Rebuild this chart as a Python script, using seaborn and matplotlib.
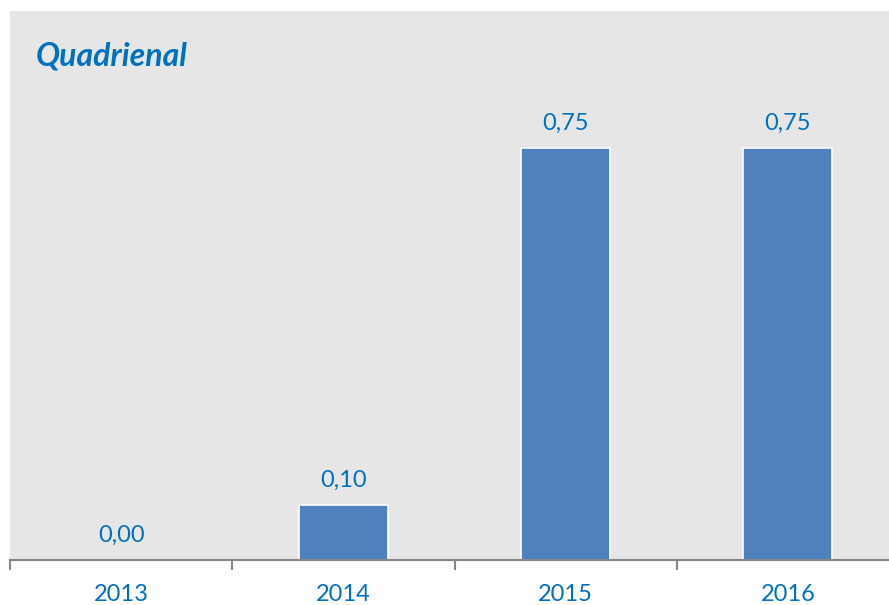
import matplotlib
matplotlib.use("Agg")
import matplotlib.pyplot as plt
import seaborn as sns
from matplotlib.ticker import FixedLocator

# Data
years = ["2013", "2014", "2015", "2016"]
values = [0.00, 0.10, 0.75, 0.75]
value_labels = ["0,00", "0,10", "0,75", "0,75"]
title = "Quadrienal"

bar_color = "#4F81BD"
text_color = "#0070C0"
panel_color = "#E6E6E6"
axis_color = "#878787"

sns.set_theme(style="white")
plt.rcParams["font.family"] = ["Lato", "DejaVu Sans"]

fig = plt.figure(figsize=(8.89, 6.05), dpi=100)
W, H = 889, 605
ax = fig.add_axes([10 / W, 45 / H, 889 / W, 549 / H])
ax.set_facecolor(panel_color)

sns.barplot(x=years, y=values, color=bar_color, width=0.4, saturation=1,
            edgecolor="white", linewidth=1.2, ax=ax)

ax.set_xlim(-0.5, 3.5)
ax.set_ylim(0, 1.0)
ax.set_yticks([])
ax.set_xlabel("")
ax.set_ylabel("")

for side in ("top", "left", "right"):
    ax.spines[side].set_visible(False)
ax.spines["bottom"].set_color(axis_color)
ax.spines["bottom"].set_linewidth(1.5)

# Category labels centred, tick marks on category boundaries
ax.tick_params(axis="x", which="major", bottom=False, length=0, pad=17,
               labelsize=17, labelcolor=text_color)
ax.xaxis.set_minor_locator(FixedLocator([-0.5, 0.5, 1.5, 2.5, 3.5]))
ax.tick_params(axis="x", which="minor", bottom=True, length=7, width=1.5,
               color=axis_color, direction="out")

# Value labels above each bar
for i, (v, lab) in enumerate(zip(values, value_labels)):
    ax.annotate(lab, xy=(i, v), xytext=(0, 18), textcoords="offset points",
                ha="center", va="center", fontsize=17, color=text_color)

fig.text(36 / W, 1 - 56 / H, title, ha="left", va="center", fontsize=23,
         fontweight="bold", fontstyle="italic", color=text_color)

fig.savefig("out.png", dpi=100, facecolor="white")
